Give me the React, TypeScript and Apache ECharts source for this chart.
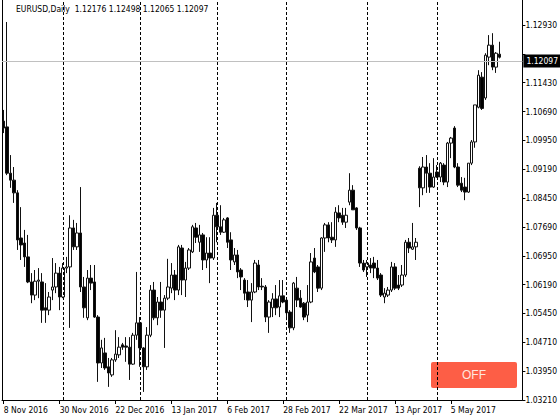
import React, { useEffect, useRef } from "react";
import * as echarts from "echarts";

// Daily EURUSD bars from 8 Nov 2016
const openP = [
  1.1044, 1.1029, 1.0909, 1.0891, 1.0858, 1.0741, 1.0728, 1.0692, 1.0627, 1.0593,
  1.0629, 1.0627, 1.0560, 1.0554, 1.0606, 1.0614, 1.0650, 1.0588, 1.0663, 1.0666,
  1.0767, 1.0718, 1.0754, 1.0614, 1.0534, 1.0637, 1.0627, 1.0536, 1.0417, 1.0443,
  1.0407, 1.0386, 1.0425, 1.0438, 1.0464, 1.0461, 1.0458, 1.0414, 1.0489, 1.0521,
  1.0456, 1.0407, 1.0489, 1.0606, 1.0534, 1.0575, 1.0554, 1.0585, 1.0611, 1.0645,
  1.0606, 1.0715, 1.0632, 1.0663, 1.0705, 1.0767, 1.0730, 1.0749, 1.0684, 1.0702,
  1.0689, 1.0800, 1.0770, 1.0756, 1.0793, 1.0736, 1.0679, 1.0697, 1.0658, 1.0632,
  1.0601, 1.0580, 1.0601, 1.0671, 1.0616, 1.0614, 1.0536, 1.0560, 1.0583, 1.0562,
  1.0591, 1.0580, 1.0549, 1.0508, 1.0611, 1.0585, 1.0572, 1.0541, 1.0575, 1.0689,
  1.0666, 1.0611, 1.0741, 1.0775, 1.0743, 1.0736, 1.0806, 1.0800, 1.0782, 1.0834,
  1.0865, 1.0819, 1.0767, 1.0676, 1.0666, 1.0671, 1.0676, 1.0663, 1.0645, 1.0588,
  1.0593, 1.0606, 1.0666, 1.0619, 1.0619, 1.0645, 1.0730, 1.0712, 1.0718, 1.0922,
  1.0871, 1.0925, 1.0909, 1.0873, 1.0912, 1.0899, 1.0930, 1.0886, 1.0987, 1.1026,
  1.0925, 1.0883, 1.0873, 1.0860, 1.0935, 1.0990, 1.1080, 1.1158, 1.1104, 1.1210,
  1.1241, 1.1184, 1.12176,
];
const highP = [
  1.1073, 1.1301, 1.0956, 1.0925, 1.0865, 1.0821, 1.0762, 1.0749, 1.0650, 1.0658,
  1.0663, 1.0650, 1.0624, 1.0601, 1.0689, 1.0676, 1.0666, 1.0676, 1.0692, 1.0800,
  1.0788, 1.0780, 1.0873, 1.0640, 1.0658, 1.0671, 1.0671, 1.0541, 1.0477, 1.0482,
  1.0430, 1.0430, 1.0502, 1.0484, 1.0469, 1.0484, 1.0484, 1.0495, 1.0653, 1.0536,
  1.0458, 1.0510, 1.0619, 1.0627, 1.0588, 1.0627, 1.0593, 1.0687, 1.0676, 1.0658,
  1.0723, 1.0723, 1.0679, 1.0715, 1.0775, 1.0780, 1.0775, 1.0754, 1.0743, 1.0743,
  1.0819, 1.0832, 1.0826, 1.0793, 1.0795, 1.0756, 1.0715, 1.0710, 1.0663, 1.0637,
  1.0632, 1.0624, 1.0684, 1.0684, 1.0637, 1.0619, 1.0580, 1.0598, 1.0619, 1.0632,
  1.0632, 1.0588, 1.0554, 1.0627, 1.0640, 1.0606, 1.0575, 1.0619, 1.0702, 1.0715,
  1.0671, 1.0743, 1.0780, 1.0782, 1.0782, 1.0821, 1.0826, 1.0819, 1.0819, 1.0909,
  1.0878, 1.0821, 1.0770, 1.0684, 1.0684, 1.0689, 1.0692, 1.0684, 1.0650, 1.0611,
  1.0614, 1.0679, 1.0676, 1.0645, 1.0671, 1.0736, 1.0741, 1.0780, 1.0741, 1.0927,
  1.0951, 1.0956, 1.0935, 1.0948, 1.0930, 1.0938, 1.0935, 1.0990, 1.1003, 1.1031,
  1.0935, 1.0899, 1.0897, 1.0935, 1.0995, 1.1086, 1.1176, 1.1171, 1.1220, 1.1267,
  1.1272, 1.1223, 1.12498,
];
const lowP = [
  1.1013, 1.0904, 1.0871, 1.0832, 1.0710, 1.0684, 1.0666, 1.0624, 1.0572, 1.0580,
  1.0585, 1.0521, 1.0521, 1.0541, 1.0580, 1.0598, 1.0554, 1.0585, 1.0650, 1.0508,
  1.0710, 1.0710, 1.0601, 1.0534, 1.0528, 1.0606, 1.0534, 1.0368, 1.0404, 1.0399,
  1.0355, 1.0381, 1.0420, 1.0430, 1.0451, 1.0420, 1.0373, 1.0412, 1.0477, 1.0407,
  1.0342, 1.0399, 1.0484, 1.0528, 1.0515, 1.0534, 1.0456, 1.0580, 1.0598, 1.0580,
  1.0593, 1.0593, 1.0588, 1.0658, 1.0702, 1.0728, 1.0705, 1.0658, 1.0663, 1.0624,
  1.0684, 1.0730, 1.0749, 1.0754, 1.0715, 1.0658, 1.0671, 1.0637, 1.0606, 1.0580,
  1.0562, 1.0523, 1.0598, 1.0606, 1.0606, 1.0523, 1.0495, 1.0536, 1.0541, 1.0536,
  1.0572, 1.0528, 1.0495, 1.0502, 1.0562, 1.0560, 1.0528, 1.0523, 1.0572, 1.0650,
  1.0601, 1.0606, 1.0705, 1.0730, 1.0728, 1.0718, 1.0782, 1.0775, 1.0767, 1.0826,
  1.0814, 1.0762, 1.0666, 1.0653, 1.0640, 1.0650, 1.0637, 1.0632, 1.0588, 1.0572,
  1.0588, 1.0601, 1.0606, 1.0606, 1.0614, 1.0640, 1.0702, 1.0710, 1.0684, 1.0821,
  1.0852, 1.0858, 1.0858, 1.0871, 1.0897, 1.0886, 1.0878, 1.0873, 1.0948, 1.0922,
  1.0873, 1.0860, 1.0839, 1.0858, 1.0930, 1.0975, 1.1077, 1.1073, 1.1099, 1.1189,
  1.1176, 1.1169, 1.12065,
];
const closeP = [
  1.1026, 1.0909, 1.0891, 1.0858, 1.0736, 1.0723, 1.0692, 1.0627, 1.0593, 1.0629,
  1.0632, 1.0554, 1.0554, 1.0588, 1.0614, 1.0650, 1.0588, 1.0663, 1.0666, 1.0767,
  1.0718, 1.0754, 1.0614, 1.0560, 1.0637, 1.0624, 1.0536, 1.0417, 1.0456, 1.0404,
  1.0391, 1.0425, 1.0440, 1.0458, 1.0458, 1.0458, 1.0414, 1.0489, 1.0521, 1.0456,
  1.0407, 1.0489, 1.0606, 1.0534, 1.0575, 1.0554, 1.0585, 1.0614, 1.0645, 1.0606,
  1.0718, 1.0632, 1.0663, 1.0710, 1.0770, 1.0743, 1.0749, 1.0684, 1.0702, 1.0689,
  1.0800, 1.0770, 1.0756, 1.0788, 1.0730, 1.0684, 1.0697, 1.0653, 1.0640, 1.0598,
  1.0580, 1.0601, 1.0676, 1.0614, 1.0614, 1.0536, 1.0575, 1.0583, 1.0560, 1.0591,
  1.0575, 1.0547, 1.0508, 1.0624, 1.0580, 1.0562, 1.0536, 1.0575, 1.0679, 1.0653,
  1.0611, 1.0741, 1.0775, 1.0741, 1.0736, 1.0808, 1.0793, 1.0782, 1.0800, 1.0865,
  1.0814, 1.0767, 1.0676, 1.0658, 1.0676, 1.0663, 1.0663, 1.0637, 1.0593, 1.0598,
  1.0606, 1.0666, 1.0611, 1.0611, 1.0645, 1.0730, 1.0715, 1.0718, 1.0730, 1.0871,
  1.0925, 1.0909, 1.0873, 1.0899, 1.0899, 1.0935, 1.0886, 1.0987, 1.1000, 1.0925,
  1.0878, 1.0865, 1.0860, 1.0935, 1.0990, 1.1086, 1.1163, 1.1077, 1.1215, 1.1241,
  1.1184, 1.1220, 1.12097,
];

// the label at index 12 sits under the current-price box in the reference
const yTickLabels = [
  "1.03210", "1.03950", "1.04710", "1.05450", "1.06190", "1.06950", "1.07690",
  "1.08450", "1.09190", "1.09950", "1.10690", "1.11430", "", "1.12930",
];
const monthStarts = ["2016-12-01", "2017-01-02", "2017-02-01", "2017-03-01", "2017-04-03", "2017-05-01"];
const monthNames = ["Jan", "Feb", "Mar", "Apr", "May", "Jun", "Jul", "Aug", "Sep", "Oct", "Nov", "Dec"];

const START_DATE = "2016-11-08";
const SLOTS = 149; // bars plus empty right margin
const Y_MIN = 1.0321;
const Y_MAX = 1.1358;
const Y_INTERVAL = Y_MIN / 138;

function tradingDays(start: string, n: number): string[] {
  const out: string[] = [];
  const d = new Date(start + "T00:00:00Z");
  while (out.length < n) {
    const w = d.getUTCDay();
    if (w !== 0 && w !== 6) out.push(d.toISOString().slice(0, 10));
    d.setUTCDate(d.getUTCDate() + 1);
  }
  return out;
}

const FONT = "'DejaVu Sans Condensed', 'DejaVu Sans', sans-serif";

export default function App() {
  const ref = useRef<HTMLDivElement>(null);
  useEffect(() => {
    if (!ref.current) return;
    const chart = echarts.init(ref.current, undefined, { renderer: "svg" });
    const categories = tradingDays(START_DATE, SLOTS);
    const candles = openP.map((o, i) => [o, closeP[i], lowP[i], highP[i]]);
    const lastClose = closeP[closeP.length - 1];
    const lastCount = openP.length;
    const labelIdx = (idx: number) => idx % 16 === 0 && idx < lastCount;

    chart.setOption({
      animation: false,
      backgroundColor: "#fff",
      grid: { left: 2, right: 37, top: 0, bottom: 20 },
      xAxis: {
        type: "category",
        data: categories,
        boundaryGap: true,
        axisLine: { show: true, lineStyle: { color: "#000", width: 1 } },
        axisTick: {
          show: true,
          alignWithLabel: true,
          length: 4,
          interval: (idx: number) => labelIdx(idx),
          lineStyle: { color: "#000" },
        },
        axisLabel: {
          interval: (idx: number) => labelIdx(idx),
          align: "left",
          margin: 5,
          fontSize: 8.5,
          fontFamily: FONT,
          color: "#000",
          formatter: (v: string) => {
            const d = new Date(v + "T00:00:00Z");
            return `${d.getUTCDate()} ${monthNames[d.getUTCMonth()]} ${d.getUTCFullYear()}`;
          },
        },
        splitLine: { show: false },
      },
      yAxis: {
        type: "value",
        position: "right",
        min: Y_MIN,
        max: Y_MAX,
        interval: Y_INTERVAL,
        axisLine: { show: true, lineStyle: { color: "#000", width: 1 } },
        axisTick: { show: true, length: 3, lineStyle: { color: "#000" } },
        splitLine: { show: false },
        axisLabel: {
          margin: 3,
          fontSize: 8.5,
          fontFamily: FONT,
          color: "#000",
          showMaxLabel: false,
          formatter: (v: number) => {
            const k = Math.round((v - Y_MIN) / Y_INTERVAL);
            if (Math.abs(v - (Y_MIN + k * Y_INTERVAL)) > Y_INTERVAL * 0.05) return "";
            return yTickLabels[k] ?? "";
          },
        },
      },
      series: [
        {
          type: "line",
          data: [],
          z: 1,
          silent: true,
          markLine: {
            silent: true,
            symbol: ["none", "none"],
            label: { show: false },
            lineStyle: { color: "#000", type: [3, 2], width: 1 },
            data: monthStarts.map((d) => ({ xAxis: d })),
          },
        },
        {
          type: "candlestick",
          z: 3,
          barWidth: 3,
          data: candles,
          itemStyle: {
            color: "#fff",
            color0: "#000",
            borderColor: "#111",
            borderColor0: "#111",
            borderWidth: 1,
          },
          markLine: {
            silent: true,
            symbol: ["none", "none"],
            lineStyle: { color: "#c0c0c0", type: "solid", width: 1 },
            label: {
              show: true,
              position: "end",
              distance: 1,
              verticalAlign: "middle",
              formatter: () => lastClose.toFixed(5),
              backgroundColor: "#000",
              color: "#fff",
              fontSize: 8.5,
              fontFamily: FONT,
              padding: [2, 3, 2, 3],
            },
            data: [{ yAxis: lastClose }],
          },
        },
      ],
      graphic: [
        {
          type: "line",
          shape: { x1: 2.5, y1: 0, x2: 2.5, y2: 400 },
          style: { stroke: "#000", lineWidth: 1 },
          silent: true,
        },
        {
          type: "text",
          left: 16,
          top: 4,
          style: {
            text: "EURUSD,Daily  1.12176 1.12498 1.12065 1.12097",
            fill: "#000",
            fontSize: 8.5,
            fontFamily: FONT,
          },
          silent: true,
        },
        {
          type: "group",
          left: 431,
          top: 362,
          children: [
            {
              type: "rect",
              shape: { x: 0, y: 0, width: 86, height: 26, r: 2 },
              style: { fill: "#fd5e46" },
            },
            {
              type: "text",
              x: 43,
              y: 13,
              style: {
                text: "OFF",
                fill: "#ffe6de",
                fontSize: 12,
                fontFamily: "'Liberation Sans', Arial, sans-serif",
                align: "center",
                verticalAlign: "middle",
              },
            },
          ],
        },
      ],
    });
    return () => chart.dispose();
  }, []);
  return (
    <div
      ref={ref}
      style={{ position: "fixed", left: 0, top: 0, width: 560, height: 420, background: "#fff" }}
    />
  );
}
